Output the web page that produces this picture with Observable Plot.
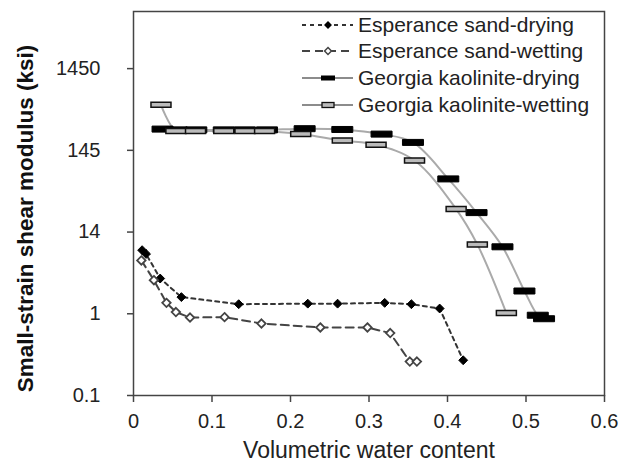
<!DOCTYPE html>
<html><head><meta charset="utf-8">
<script src="https://cdn.jsdelivr.net/npm/d3@7"></script>
<script src="https://cdn.jsdelivr.net/npm/@observablehq/plot@0.6"></script>
<style>
body{margin:0;background:#fff;}
#wrap{position:relative;width:621px;height:461px;font-family:"Liberation Sans",Arial,sans-serif;}
#legend{position:absolute;left:0;top:0;pointer-events:none;}
</style></head><body><div id="wrap"></div>
<script>
// ---- data ----
const sandDryingWC = [0.011, 0.016, 0.034, 0.061, 0.134, 0.222, 0.26, 0.32, 0.354, 0.39, 0.42];
const sandDryingG  = [6.0, 5.4, 2.7, 1.6, 1.31, 1.33, 1.33, 1.36, 1.31, 1.16, 0.27];

const sandWettingWC = [0.010, 0.026, 0.042, 0.054, 0.072, 0.116, 0.163, 0.238, 0.298, 0.327, 0.352, 0.361];
const sandWettingG  = [4.5, 2.58, 1.36, 1.05, 0.9, 0.91, 0.76, 0.68, 0.68, 0.58, 0.26, 0.26];

const kaoDryingWC = [0.037, 0.055, 0.08, 0.115, 0.142, 0.17, 0.218, 0.266, 0.316, 0.356, 0.401, 0.437, 0.47, 0.498, 0.515, 0.523];
const kaoDryingG  = [182, 178, 178, 178, 178, 178, 184, 180, 158, 125, 44.7, 17.3, 6.6, 1.9, 0.96, 0.87];

const kaoWettingWC = [0.035, 0.054, 0.079, 0.115, 0.142, 0.167, 0.213, 0.266, 0.309, 0.358, 0.411, 0.438, 0.475];
const kaoWettingG  = [361, 173, 173, 173, 173, 173, 158, 132, 117, 75, 19.1, 7.06, 1.02];

const seriesNames = ["Esperance sand-drying", "Esperance sand-wetting", "Georgia kaolinite-drying", "Georgia kaolinite-wetting"];

const xTickValues = [0, 0.1, 0.2, 0.3, 0.4, 0.5, 0.6];
const xTickLabels = ["0", "0.1", "0.2", "0.3", "0.4", "0.5", "0.6"];
const yTickValues = [0.1, 1, 10, 100, 1000];
const yTickLabels = ["0.1", "1", "14", "145", "1450"];

const xLabel = "Volumetric water content";
const yLabel = "Small-strain shear modulus (ksi)";

// ---- build tables ----
const zip = (xs, ys) => xs.map((x, i) => ({x, y: ys[i]}));
const sandDry = zip(sandDryingWC, sandDryingG);
const sandWet = zip(sandWettingWC, sandWettingG);
const kaoDry = zip(kaoDryingWC, kaoDryingG);
const kaoWet = zip(kaoWettingWC, kaoWettingG);

const rectSymbol = (w, h) => ({draw(ctx) {
  ctx.moveTo(-w/2, -h/2); ctx.lineTo(w/2, -h/2); ctx.lineTo(w/2, h/2); ctx.lineTo(-w/2, h/2); ctx.closePath();
}});

const chart = Plot.plot({
  width: 621, height: 461,
  marginLeft: 133, marginRight: 17, marginTop: 11, marginBottom: 66,
  style: {fontFamily: '"Liberation Sans", Arial, sans-serif', fontSize: "20px", color: "#222", background: "#fff"},
  x: {domain: [0, 0.6]},
  y: {type: "log", domain: [0.1, 5000]},
  marks: [
    Plot.line(kaoWet, {x: "x", y: "y", stroke: "#aaa", strokeWidth: 2, curve: "catmull-rom"}),
    Plot.line(kaoDry, {x: "x", y: "y", stroke: "#aaa", strokeWidth: 2, curve: "catmull-rom"}),
    Plot.line(sandDry, {x: "x", y: "y", stroke: "#333", strokeWidth: 2, strokeDasharray: "4,4"}),
    Plot.line(sandWet, {x: "x", y: "y", stroke: "#444", strokeWidth: 2, strokeDasharray: "8,5"}),
    Plot.dot(kaoDry, {x: "x", y: "y", symbol: rectSymbol(21, 6), fill: "#000", stroke: "#000", strokeWidth: 1}),
    Plot.dot(kaoWet, {x: "x", y: "y", symbol: rectSymbol(20, 5), fill: "#bbb", stroke: "#111", strokeWidth: 1.5}),
    Plot.dot(sandDry, {x: "x", y: "y", symbol: "diamond2", r: 4, fill: "#000", stroke: "#000", strokeWidth: 1}),
    Plot.dot(sandWet, {x: "x", y: "y", symbol: "diamond2", r: 3.8, fill: "#fff", stroke: "#444", strokeWidth: 1.8}),
    Plot.frame({stroke: "#444", strokeWidth: 1.5}),
    Plot.axisX({ticks: xTickValues, tickFormat: d => xTickLabels[xTickValues.indexOf(d)], tickSize: 7, tickPadding: 11, label: null, fontSize: 20, stroke: "#444", strokeWidth: 1.5}),
    Plot.axisY({ticks: yTickValues, tickFormat: d => yTickLabels[yTickValues.indexOf(d)], tickSize: 6, tickPadding: 27, label: null, fontSize: 20, stroke: "#444", strokeWidth: 1.5}),
    Plot.text([xLabel], {frameAnchor: "bottom", dy: 62, fontSize: 23, fill: "#222"}),
    Plot.text([yLabel], {frameAnchor: "left", textAnchor: "middle", dx: -108, dy: 15, rotate: -90, fontSize: 22.5, fontWeight: "bold", fill: "#111"})
  ]
});
document.getElementById("wrap").appendChild(chart);

// ---- legend (inside plot area, top right) ----
const leg = d3.select("#wrap").append("svg").attr("id", "legend").attr("width", 621).attr("height", 461);
const rows = [25, 51, 78, 105];
const lx0 = 302, lx1 = 353, lm = 328, lt = 358;
seriesNames.forEach((name, i) => {
  const g = leg.append("g").attr("transform", `translate(0,${rows[i]})`);
  if (i === 0) g.append("line").attr("x1", lx0).attr("x2", lx1).attr("stroke", "#333").attr("stroke-width", 2).attr("stroke-dasharray", "4,4");
  if (i === 1) g.append("line").attr("x1", lx0).attr("x2", lx1).attr("stroke", "#444").attr("stroke-width", 2).attr("stroke-dasharray", "8,5");
  if (i >= 2) g.append("line").attr("x1", lx0).attr("x2", lx1).attr("stroke", "#666").attr("stroke-width", 1.5);
  if (i === 0) g.append("path").attr("d", d3.symbol(d3.symbolDiamond2, 40)()).attr("transform", `translate(${lm},0)`).attr("fill", "#000");
  if (i === 1) g.append("path").attr("d", d3.symbol(d3.symbolDiamond2, 30)()).attr("transform", `translate(${lm},0)`).attr("fill", "#fff").attr("stroke", "#444").attr("stroke-width", 1.5);
  if (i === 2) g.append("rect").attr("x", lm - 7).attr("y", -2.5).attr("width", 14).attr("height", 5).attr("fill", "#000");
  if (i === 3) g.append("rect").attr("x", lm - 6).attr("y", -2.5).attr("width", 12).attr("height", 5).attr("fill", "#bbb").attr("stroke", "#111").attr("stroke-width", 1.3);
  g.append("text").attr("x", lt).attr("y", 0).attr("dy", "0.35em").attr("font-size", 21).attr("fill", "#222").text(name);
});
</script></body></html>
